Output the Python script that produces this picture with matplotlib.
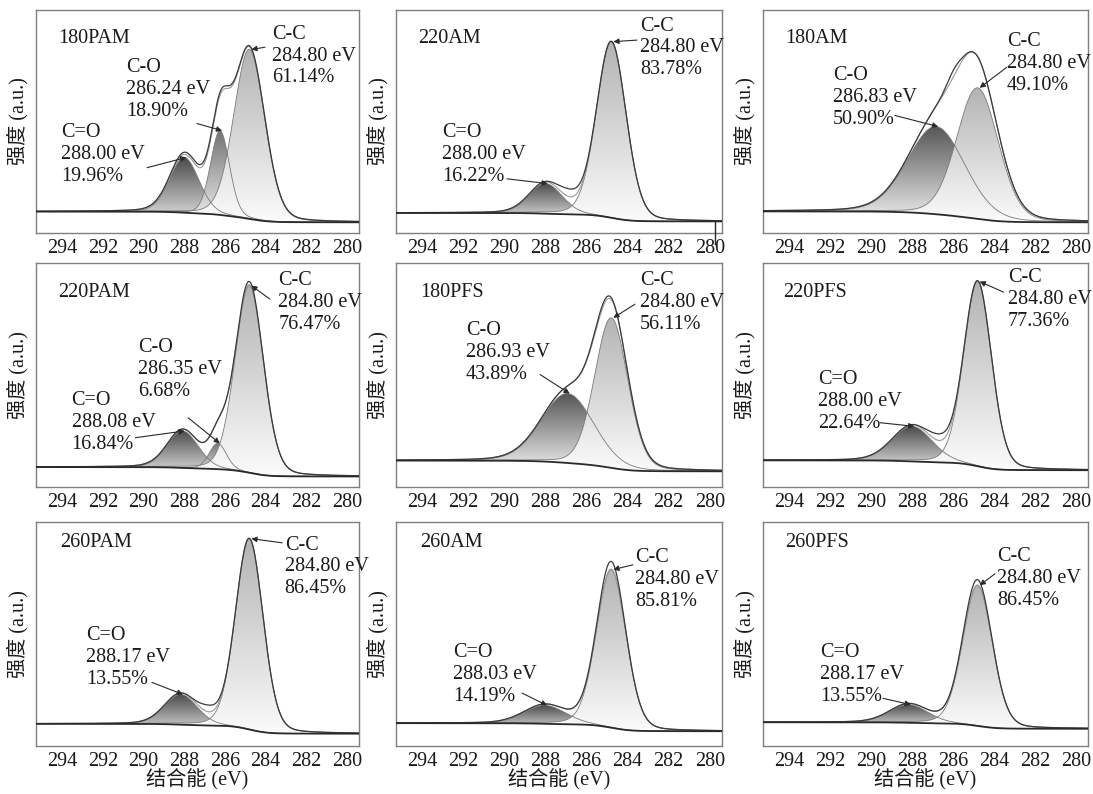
import numpy as np
import matplotlib
matplotlib.use('Agg')
import matplotlib.pyplot as plt
from matplotlib.colors import LinearSegmentedColormap
from matplotlib.patches import Polygon

plt.rcParams['font.family'] = ['Liberation Serif', 'Noto Sans CJK SC']
plt.rcParams['font.size'] = 14.5

# amostras (ordem dos paineis)
samples = ['180PAM', '220AM', '180AM', '220PAM', '180PFS', '220PFS', '260PAM', '260AM', '260PFS']

# fundo (fração da altura do eixo) no lado de alta e baixa energia
bg_left = [0.096, 0.090, 0.097, 0.089, 0.118, 0.119, 0.099, 0.102, 0.106]
bg_right = [0.048, 0.052, 0.048, 0.047, 0.070, 0.075, 0.055, 0.066, 0.077]

# C=O: energia, área %, altura, FWHM
coo_be = [288.00, 288.00, None, 288.08, None, 288.00, 288.17, 288.03, 288.17]
coo_pct = [19.96, 16.22, None, 16.84, None, 22.64, 13.55, 14.19, 13.55]
coo_h = [0.248, 0.135, None, 0.165, None, 0.157, 0.135, 0.082, 0.081]
coo_w = [1.7, 1.9, None, 1.8, None, 2.3, 1.9, 2.4, 2.2]

# C-O
co_be = [286.24, None, 286.83, 286.35, 286.93, None, None, None, None]
co_pct = [18.90, None, 50.90, 6.68, 43.89, None, None, None, None]
co_h = [0.378, None, 0.393, 0.115, 0.310, None, None, None, None]
co_w = [1.1, None, 3.3, 1.0, 3.0, None, None, None, None]

# C-C
cc_be = [284.80] * 9
cc_pct = [61.14, 83.78, 49.10, 76.47, 56.11, 77.36, 86.45, 85.81, 86.45]
cc_h = [0.760, 0.790, 0.588, 0.836, 0.670, 0.825, 0.852, 0.706, 0.628]
cc_w = [1.8, 1.7, 2.4, 1.65, 1.9, 1.6, 1.6, 1.7, 1.7]

# diferença entre espectro medido e envelope
raw_be = [286.8, 286.8, 286.0, 284.9, 285.3, 286.6, 286.8, 284.9, 285.0]
raw_h = [0.015, 0.035, 0.030, 0.015, 0.015, 0.030, 0.030, 0.035, 0.025]
raw_w = [3.0, 1.2, 0.8, 1.0, 1.2, 1.2, 1.0, 1.2, 1.4]
raw_drop = [None, 279.75, None, None, None, None, None, None, None]

ticks = [294, 292, 290, 288, 286, 284, 282, 280]

# posições das anotações (fração do eixo): texto (x, y centro) e início da seta
ann_cc = [((0.73, 0.793), (0.709, 0.833)), ((0.748, 0.83), (0.739, 0.865)),
          ((0.75, 0.761), (0.75, 0.743)), ((0.75, 0.825), (0.724, 0.839)),
          ((0.748, 0.825), (0.733, 0.816)), ((0.753, 0.838), (0.74, 0.87)),
          ((0.77, 0.80), (0.762, 0.907)), ((0.733, 0.742), (0.727, 0.809)),
          ((0.72, 0.747), (0.714, 0.769))]
ann_co = [((0.279, 0.644), (0.498, 0.491)), None,
          ((0.215, 0.608), (0.406, 0.527)), ((0.315, 0.525), (0.471, 0.309)),
          ((0.215, 0.60), (0.442, 0.502)), None, None, None, None]
ann_coo = [((0.077, 0.351), (0.344, 0.293)), ((0.141, 0.351), (0.34, 0.243)), None,
           ((0.11, 0.287), (0.307, 0.22)), None, ((0.17, 0.382), (0.36, 0.287)),
           ((0.155, 0.396), (0.359, 0.284)), ((0.175, 0.32), (0.387, 0.236)),
           ((0.175, 0.32), (0.369, 0.213))]
title_pos = [(0.07, 0.874), (0.067, 0.87), (0.068, 0.874), (0.068, 0.87), (0.074, 0.87),
             (0.062, 0.87), (0.074, 0.907), (0.074, 0.907), (0.068, 0.907)]

W, H = 1093, 794
cols = [(36, 359), (396, 722), (763, 1088)]
rows = [(10, 233), (263, 487), (522, 746)]


def pv(x, c, h, w, eta=0.15):
    s = w / 2.3548
    g = np.exp(-0.5 * ((x - c) / s) ** 2)
    l = 1 / (1 + ((x - c) / (w / 2)) ** 2)
    return h * ((1 - eta) * g + eta * l)


def grad_fill(ax, x, lo, hi, top, bottom):
    verts = np.column_stack([np.r_[x, x[::-1]], np.r_[hi, lo[::-1]]])
    patch = Polygon(verts, closed=True, facecolor='none', edgecolor='none')
    ax.add_patch(patch)
    cmap = LinearSegmentedColormap.from_list('g', [bottom, top])
    im = ax.imshow(np.linspace(0, 1, 256).reshape(-1, 1), cmap=cmap, origin='lower',
                   extent=[x[0], x[-1], lo.min(), hi.max()], aspect='auto', zorder=1)
    im.set_clip_path(patch)
    ax.plot(x, hi, color='#7a7a7a', lw=0.6, zorder=2)


fig = plt.figure(figsize=(W / 100, H / 100), dpi=100)
x = np.linspace(295.3, 279.4, 900)

for i, name in enumerate(samples):
    r, c = divmod(i, 3)
    (x0, x1), (y0, y1) = cols[c], rows[r]
    ax = fig.add_axes([x0 / W, 1 - y1 / H, (x1 - x0) / W, (y1 - y0) / H])

    comps = []
    if coo_be[i] is not None:
        comps.append(('C=O', coo_be[i], coo_pct[i], pv(x, coo_be[i], coo_h[i], coo_w[i]),
                      '#4a4a4a', '#e4e4e4', ann_coo[i]))
    if co_be[i] is not None:
        top = '#555555' if coo_be[i] is None else '#727272'
        comps.append(('C-O', co_be[i], co_pct[i], pv(x, co_be[i], co_h[i], co_w[i]),
                      top, '#f0f0f0', ann_co[i]))
    comps.append(('C-C', cc_be[i], cc_pct[i], pv(x, cc_be[i], cc_h[i], cc_w[i]),
                  '#b3b3b3', '#fbfbfb', ann_cc[i]))

    total = sum(p[3] for p in comps)
    cum = np.cumsum(total[::-1])[::-1]
    bg = bg_right[i] + (bg_left[i] - bg_right[i]) * cum / cum[0]

    for lab, be, pct, pk, ctop, cbot, ann in comps:
        grad_fill(ax, x, bg, bg + pk, ctop, cbot)

    env = bg + total
    raw = env + pv(x, raw_be[i], raw_h[i], raw_w[i], eta=0)
    ax.plot(x, env, color='#9a9a9a', lw=0.8, zorder=3)
    ax.plot(x, raw, color='#3a3a3a', lw=0.9, zorder=4)
    ax.plot(x, bg, color='#2a2a2a', lw=1.3, zorder=5)
    if raw_drop[i] is not None:
        ax.plot([raw_drop[i], raw_drop[i]], [bg_right[i], -0.05], color='#2a2a2a',
                lw=1.0, clip_on=False, zorder=5)

    for lab, be, pct, pk, ctop, cbot, ann in comps:
        (tx, ty), (ax_, ay_) = ann
        ax.text(tx, ty, f'{lab}\n{be:.2f} eV\n{pct:.2f}%', transform=ax.transAxes,
                ha='left', va='center', linespacing=1.2, color='#1a1a1a', zorder=6)
        ypk = np.interp(be, x[::-1], (bg + pk)[::-1])
        ax.annotate('', xy=(be - 0.1, ypk), xycoords='data', xytext=(ax_, ay_),
                    textcoords='axes fraction',
                    arrowprops=dict(arrowstyle='-|>', color='#2a2a2a', lw=0.8,
                                    mutation_scale=8, shrinkA=0, shrinkB=0), zorder=6)

    ax.text(title_pos[i][0], title_pos[i][1], name, transform=ax.transAxes,
            ha='left', va='center', color='#1a1a1a')

    ax.set_xlim(295.3, 279.4)
    ax.set_ylim(0, 1)
    ax.set_xticks(ticks)
    ax.set_yticks([])
    ax.tick_params(axis='x', length=0, pad=4, colors='#1a1a1a', labelsize=14.5)
    for s in ax.spines.values():
        s.set_color('#7f7f7f')
        s.set_linewidth(1.0)

    fig.text((x0 - 18) / W, 1 - (y0 + y1) / 2 / H, '强度 (a.u.)', rotation=90,
             ha='center', va='center', color='#1a1a1a')
    if r == 2:
        fig.text((x0 + x1) / 2 / W, 1 - 780 / H, '结合能 (eV)', ha='center', va='center',
                 color='#1a1a1a')

fig.savefig('out.png', dpi=100)
